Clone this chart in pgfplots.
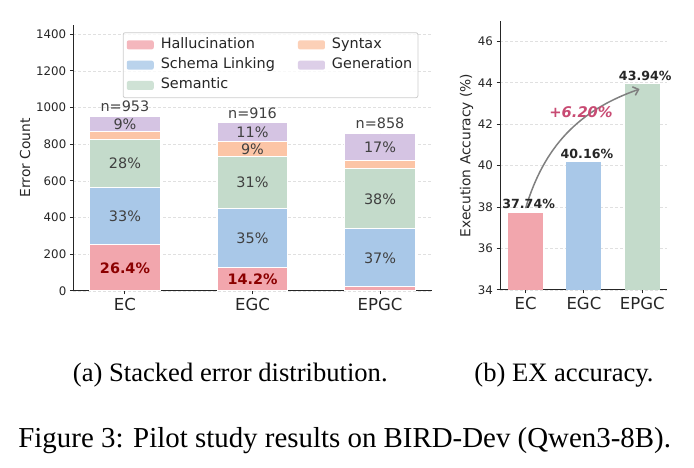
\documentclass[border=0pt]{standalone}
\usepackage{fontspec}
\setmainfont{DejaVu Sans}
\newfontfamily\capfont{Liberation Serif}
\usepackage{pgfplots}
\pgfplotsset{compat=1.18}
\usetikzlibrary{arrows.meta}

\definecolor{cHal}{HTML}{F2A6AD}
\definecolor{cSch}{HTML}{A9C8E8}
\definecolor{cSem}{HTML}{C4DBCB}
\definecolor{cSyn}{HTML}{FCC5A6}
\definecolor{cGen}{HTML}{D5C4E3}
\definecolor{txt}{HTML}{262626}
\definecolor{lbl}{HTML}{404040}
\definecolor{halred}{HTML}{8B0000}
\definecolor{gain}{HTML}{C84B73}
\definecolor{legframe}{HTML}{CCCCCC}

\newcommand\legtext[1]{\hspace*{5pt}#1}

\pgfplotsset{
  base/.style={
    scale only axis,
    axis x line*=bottom, axis y line*=left,
    axis line style={txt, line width=1pt},
    tick style={txt, line width=1pt},
    tick align=outside, major tick length=3.5pt,
    /pgf/number format/assume math mode=true,
    /pgf/number format/1000 sep={},
    ticklabel style={font=\fontsize{11.8}{14}\selectfont, text=txt},
    ymajorgrids,
    grid style={black!12, dash pattern=on 3pt off 2pt, line width=0.7pt},
    xtick={0,1,2}, xticklabels={EC,EGC,EPGC},
    xticklabel style={font=\fontsize{16.5}{19}\selectfont},
    ylabel style={font=\fontsize{13.8}{16}\selectfont, text=txt},
  },
  % invisible carrier for text labels placed from data
  labels/.style={only marks, mark=*, mark size=0pt,
    scatter/use mapped color={draw=none, fill=none},
    point meta=explicit symbolic, nodes near coords},
}

\begin{document}
\begin{tikzpicture}
\path[use as bounding box] (0pt,0pt) rectangle (694pt,468pt);

% ---------- (a) stacked error counts ----------
\begin{axis}[base,
  at={(73.3pt,177pt)}, anchor=south west,
  width=358.4pt, height=266pt,
  xmin=-0.405, xmax=2.405, ymin=0, ymax=1450,
  ytick={0,200,...,1400},
  ybar stacked, bar width=0.55,
  ylabel={Error Count},
  ylabel style={at={(axis description cs:-0.1348,0.5)}, anchor=center},
  every axis plot/.append style={draw=white, line width=1pt},
  legend columns=3, transpose legend,
  legend cell align=left,
  legend image code/.code={%
    \fill[#1, draw=none] (0pt,-4.5pt) rectangle (27pt,4.5pt);},
  legend style={at={(0.138,0.9726)}, anchor=north west,
    draw=legframe, line width=0.8pt, rounded corners=2pt,
    fill=white, fill opacity=0.8, text opacity=1,
    font=\fontsize{14.4}{17}\selectfont, text=txt,
    inner xsep=3.6pt, inner ysep=3.7pt, row sep=3.3pt,
    nodes={inner sep=2pt, text height=10pt, text depth=3pt},
    /tikz/every even column/.append style={column sep=21pt}},
]
\addplot[fill=cHal] coordinates {(0,252) (1,130) (2,22)};
\addlegendentry{\legtext{Hallucination}}
\addplot[fill=cSch] coordinates {(0,312) (1,319) (2,316)};
\addlegendentry{\legtext{Schema Linking}}
\addplot[fill=cSem] coordinates {(0,264) (1,285) (2,329)};
\addlegendentry{\legtext{Semantic}}
\addplot[fill=cSyn] coordinates {(0,42) (1,82) (2,44)};
\addlegendentry{\legtext{Syntax}}
\addplot[fill=cGen] coordinates {(0,83) (1,100) (2,147)};
\addlegendentry{\legtext{Generation}}
\end{axis}

% labels for the stacked segments and totals
\begin{axis}[
  at={(73.3pt,177pt)}, anchor=south west, scale only axis,
  width=358.4pt, height=266pt,
  xmin=-0.405, xmax=2.405, ymin=0, ymax=1450,
  hide axis, clip=false,
]
\addplot[labels, nodes near coords align=center,
  every node near coord/.append style={font=\fontsize{14.4}{17}\selectfont, text=lbl}]
  coordinates {(0,408) [33\%] (0,696) [28\%] (0,911.5) [9\%]
               (1,289.5) [35\%] (1,591.5) [31\%] (1,775) [9\%] (1,866) [11\%]
               (2,180) [37\%] (2,502.5) [38\%] (2,784.5) [17\%]};
\addplot[labels, nodes near coords align=center,
  every node near coord/.append style={font=\bfseries\fontsize{14.4}{17}\selectfont, text=halred}]
  coordinates {(0,126) [26.4\%] (1,65) [14.2\%]};
\addplot[labels,
  every node near coord/.append style={anchor=south, inner sep=4.5pt,
    font=\fontsize{14.4}{17}\selectfont, text=lbl}]
  coordinates {(0,953) [n=953] (1,916) [n=916] (2,858) [n=858]};
\end{axis}

% ---------- (b) execution accuracy ----------
\begin{axis}[base,
  at={(500pt,178pt)}, anchor=south west,
  width=166.7pt, height=269.3pt,
  xmin=-0.44, xmax=2.42, ymin=34, ymax=47,
  ytick={34,36,...,46},
  ybar, bar width=0.6, bar shift=0pt,
  ylabel={Execution Accuracy (\%)},
  ylabel style={at={(axis description cs:-0.2,0.5)}, anchor=center},
  every axis plot/.append style={draw=none},
  nodes near coords={\bfseries\fontsize{12.6}{15}\selectfont
    \pgfmathprintnumber[fixed,fixed zerofill,precision=2]{\pgfplotspointmeta}\%},
  every node near coord/.append style={text=txt, xshift=3pt},
]
\addplot[fill=cHal] coordinates {(0,37.74)};
\addplot[fill=cSch] coordinates {(1,40.16)};
\addplot[fill=cSem] coordinates {(2,43.94)};
\draw[-{Straight Barb[length=5pt,width=9pt]}, black!50, line width=1.5pt]
  (axis cs:0,37.95) to[bend left=27] (axis cs:1.955,43.7);
\node[font=\bfseries\itshape\fontsize{14.7}{17}\selectfont, text=gain]
  at (axis cs:0.95,42.57) {+6.20\%};
\end{axis}

% ---------- captions ----------
\node[anchor=base, font=\capfont\fontsize{26.6}{30}\selectfont] at (230.3pt,86pt)
  {(a) Stacked error distribution.};
\node[anchor=base, font=\capfont\fontsize{26.6}{30}\selectfont] at (564pt,86pt)
  {(b) EX accuracy.};
\node[anchor=base, font=\capfont\fontsize{28.9}{34}\selectfont] at (344.7pt,20.3pt)
  {Figure 3: Pilot study results on BIRD-Dev (Qwen3-8B).};
\end{tikzpicture}
\end{document}
